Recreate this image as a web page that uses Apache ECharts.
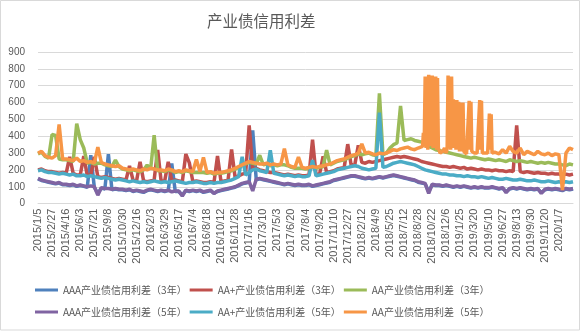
<!DOCTYPE html>
<html>
<head>
<meta charset="utf-8">
<script src="https://cdn.jsdelivr.net/npm/echarts@6/dist/echarts.min.js"></script>
<style>
  html, body { margin: 0; padding: 0; background: #fff; }
  #chart { width: 586px; height: 332px; }
</style>
</head>
<body>
<div id="chart"></div>
<script>
// Date labels shown along the x axis (one every 4 samples)
const tickLabels = [
  '2015/1/5', '2015/2/27', '2015/4/16', '2015/6/3', '2015/7/21', '2015/9/8', '2015/10/30', '2015/12/16',
  '2016/2/3', '2016/3/29', '2016/5/17', '2016/7/4', '2016/8/18', '2016/10/12', '2016/11/28', '2017/1/16',
  '2017/3/10', '2017/5/3', '2017/6/20', '2017/8/4', '2017/9/20', '2017/11/10', '2017/12/27', '2018/2/12',
  '2018/4/9', '2018/5/25', '2018/7/12', '2018/8/28', '2018/10/22', '2018/12/6', '2019/1/25', '2019/3/20',
  '2019/5/10', '2019/6/27', '2019/8/13', '2019/9/30', '2019/11/20', '2020/1/7'
];

const seriesNames = [
  'AAA产业债信用利差（3年）', 'AA+产业债信用利差（3年）', 'AA产业债信用利差（3年）',
  'AAA产业债信用利差（5年）', 'AA+产业债信用利差（5年）', 'AA产业债信用利差（5年）'
];

// Credit spreads (bp), sampled four times per label interval (sample 0 .. 152)
const aaa3 = [
  147,137,132,127, 122,117,122,112, 112,107,112,102, 107,102,97,288,
  97,60,92,87, 294,82,87,82, 82,77,82,72, 77,72,67,77,
  82,77,72,77, 72,77,238,72, 72,50,77,72, 77,72,77,67,
  72,77,62,72, 77,82,87,92, 97,107,117,122, 127,435,142,147,
  142,137,132,127, 122,117,112,117, 112,107,112,107, 107,112,102,107,
  112,117,122,127, 137,142,147,152, 157,162,162,157, 152,147,152,147,
  152,157,152,157, 162,167,162,157, 152,147,142,137, 127,122,117,70,
  112,107,107,102, 107,102,97,102, 97,102,97,92, 97,92,97,92,
  92,97,92,87, 92,70,87,92, 87,92,87,82, 87,82,87,65,
  82,87,82,87, 82,77,87,82, 87
];
const aap3 = [
  200,205,195,190, 190,185,180,185, 180,278,180,170, 170,282,165,170,
  277,160,155,160, 155,150,145,150, 145,140,223,140, 135,248,135,130,
  135,140,318,130, 135,248,135,140, 135,130,294,242, 130,135,130,125,
  125,130,125,282, 130,135,140,321, 155,165,175,180, 465,205,210,200,
  195,190,185,185, 180,175,170,175, 170,165,170,165, 165,170,380,170,
  175,281,185,190, 195,205,210,215, 353,225,230,346, 245,240,250,245,
  250,255,260,265, 270,275,280,275, 280,275,270,265, 260,250,245,240,
  235,230,225,220, 220,215,220,215, 210,215,205,210, 205,200,205,200,
  200,195,200,195, 195,190,195,190, 465,190,185,190, 185,180,185,180,
  180,175,180,175, 175,170,175,170, 175
];
const aa3 = [
  295,305,280,270, 410,405,265,260, 260,255,250,475, 380,330,240,245,
  235,240,240,230, 225,220,258,220, 205,200,195,200, 195,190,200,229,
  205,406,195,195, 190,200,195,185, 190,185,195,190, 185,185,185,185,
  180,185,175,180, 180,185,190,195, 205,215,225,235, 245,240,235,287,
  230,235,225,230, 225,230,230,225, 215,210,210,210, 205,210,215,210,
  215,220,317,230, 240,250,255,260, 270,280,285,295, 290,295,300,290,
  285,655,290,300, 330,350,360,580, 375,380,385,375, 370,365,355,340,
  330,320,315,310, 305,300,295,290, 285,280,275,270, 275,270,265,260,
  265,260,255,260, 255,250,260,255, 250,255,250,245, 250,245,240,245,
  240,245,240,235, 235,230,225,235, 230
];
const aaa5 = [
  150,140,135,130, 125,120,125,115, 115,110,115,105, 110,105,100,105,
  100,50,95,90, 90,85,90,85, 85,80,85,75, 80,75,70,80,
  85,80,75,80, 75,80,70,75, 75,45,80,75, 80,75,80,70,
  75,80,60,75, 80,85,90,95, 100,110,120,125, 130,75,145,150,
  145,140,135,130, 125,120,115,120, 115,110,115,110, 110,115,105,110,
  115,120,125,130, 140,145,150,155, 160,165,165,160, 155,150,155,150,
  155,160,155,160, 165,170,165,160, 155,150,145,140, 130,125,120,60,
  115,110,110,105, 110,105,100,105, 100,105,100,95, 100,95,100,95,
  95,100,95,90, 95,65,90,95, 90,95,90,85, 90,85,90,60,
  85,90,85,90, 85,80,90,85, 90
];
const aap5 = [
  195,200,190,185, 185,180,175,180, 175,170,175,165, 165,170,160,165,
  160,155,150,155, 150,145,140,145, 140,135,130,135, 130,125,130,125,
  130,135,130,125, 130,125,130,135, 130,125,120,125, 125,130,125,120,
  120,125,120,125, 125,130,135,140, 150,160,278,170, 185,200,205,195,
  190,185,317,180, 175,170,165,170, 165,160,165,160, 160,165,258,165,
  170,175,180,185, 190,200,205,210, 215,220,225,220, 210,205,200,205,
  210,540,215,220, 230,240,245,250, 245,240,235,230, 220,210,200,195,
  190,185,180,175, 175,170,170,165, 165,160,165,160, 160,155,160,155,
  150,155,150,145, 145,150,145,140, 140,145,140,135, 135,140,135,130,
  130,135,130,125, 130,125,130,125, 130
];
// AA 5-year: samples 0..108, then quarter-step samples 109..130 (the volatile stretch), then 131..152
const aa5Head = [
  300,310,285,275, 270,285,470,265, 265,260,255,270, 250,255,245,250,
  240,335,245,235, 230,225,220,225, 210,205,200,205, 200,195,205,200,
  210,205,200,200, 195,205,200,190, 195,190,200,195, 190,262,190,274,
  185,190,180,185, 185,190,195,200, 210,220,230,240, 250,245,240,235,
  235,240,230,235, 230,235,327,230, 220,215,277,215, 210,215,220,215,
  220,225,230,235, 245,255,260,265, 275,285,290,300, 355,300,305,295,
  290,300,295,300, 310,320,315,325, 330,335,325,320, 330
];
const aa5Dense = [
  330,340,420,380, 755,330,750,320, 765,340,760,400, 760,330,755,350,
  755,320,745,330, 320,300,300,310, 310,320,330,320, 300,330,760,330,
  755,320,755,340, 620,330,615,320, 615,330,605,310, 320,600,310,600,
  310,300,300,295, 290,300,610,320, 605,310,305,300, 300,290,290,300,
  310,300,615,320, 610,300,305,300, 300,295,295,300, 310,535,320,530,
  300,310,310,305, 310
];
const aa5Tail = [
  295, 320,300,340,310, 300,330,290,310, 300,290,310,295,
  290,300,285,295, 290,80,300,330, 320
];

const colors = ['#4F81BD', '#C0504D', '#9BBB59', '#8064A2', '#4BACC6', '#F79646'];

// [sample position, value] pairs for the value-type x axis
const toPairs = (arr, start, step) => arr.map((v, i) => [start + i * step, v]);
const aa5 = [].concat(
  toPairs(aa5Head, 0, 1),
  toPairs(aa5Dense, 109, 0.25).slice(1),
  toPairs(aa5Tail, 131, 1)
);
const seriesData = [
  toPairs(aaa3, 0, 1), toPairs(aap3, 0, 1), toPairs(aa3, 0, 1),
  toPairs(aaa5, 0, 1), toPairs(aap5, 0, 1), aa5
];

const textFont = "'Noto Sans CJK SC', sans-serif";
const numFont = "'Liberation Sans', sans-serif";

const chart = echarts.init(document.getElementById('chart'), null, { renderer: 'canvas' });

chart.setOption({
  animation: false,
  backgroundColor: '#ffffff',
  color: colors,
  title: {
    text: '产业债信用利差',
    left: 207,
    top: 13,
    padding: 0,
    textStyle: { fontSize: 15.5, fontWeight: 'normal', color: '#595959', fontFamily: textFont }
  },
  grid: { left: 38, right: 13, top: 52, bottom: 128.4, containLabel: false },
  legend: [
    {
      data: seriesNames.slice(0, 3),
      left: 35, top: 285, padding: 0,
      icon: 'rect', itemWidth: 23, itemHeight: 3, itemGap: 3,
      textStyle: { fontSize: 10, color: '#595959', fontFamily: textFont }
    },
    {
      data: seriesNames.slice(3, 6),
      left: 35, top: 307, padding: 0,
      icon: 'rect', itemWidth: 23, itemHeight: 3, itemGap: 3,
      textStyle: { fontSize: 10, color: '#595959', fontFamily: textFont }
    }
  ],
  xAxis: {
    type: 'value',
    min: 0,
    max: 152,
    interval: 4,
    axisLine: { show: true, onZero: false, lineStyle: { color: '#D9D9D9', width: 1 } },
    axisTick: { show: false },
    splitLine: { show: false },
    axisLabel: {
      rotate: 90,
      margin: 5,
      fontSize: 11,
      color: '#595959',
      fontFamily: numFont,
      showMaxLabel: false,
      formatter: (value) => tickLabels[Math.round(value / 4)] || ''
    }
  },
  yAxis: {
    type: 'value',
    min: 0,
    max: 900,
    interval: 100,
    axisLine: { show: false },
    axisTick: { show: false },
    splitLine: { lineStyle: { color: '#D9D9D9', width: 1 } },
    axisLabel: { fontSize: 10, color: '#595959', margin: 13, fontFamily: numFont }
  },
  graphic: [{
    type: 'rect',
    silent: true,
    z: 100,
    shape: { x: 0.5, y: 0.5, width: 579, height: 329.5 },
    style: { fill: 'none', stroke: '#D9D9D9', lineWidth: 1 }
  }],
  series: seriesNames.map((name, k) => ({
    name,
    type: 'line',
    data: seriesData[k],
    showSymbol: false,
    symbol: 'none',
    lineStyle: { width: 3.5, color: colors[k] },
    itemStyle: { color: colors[k] },
    emphasis: { disabled: true }
  }))
});
</script>
</body>
</html>
